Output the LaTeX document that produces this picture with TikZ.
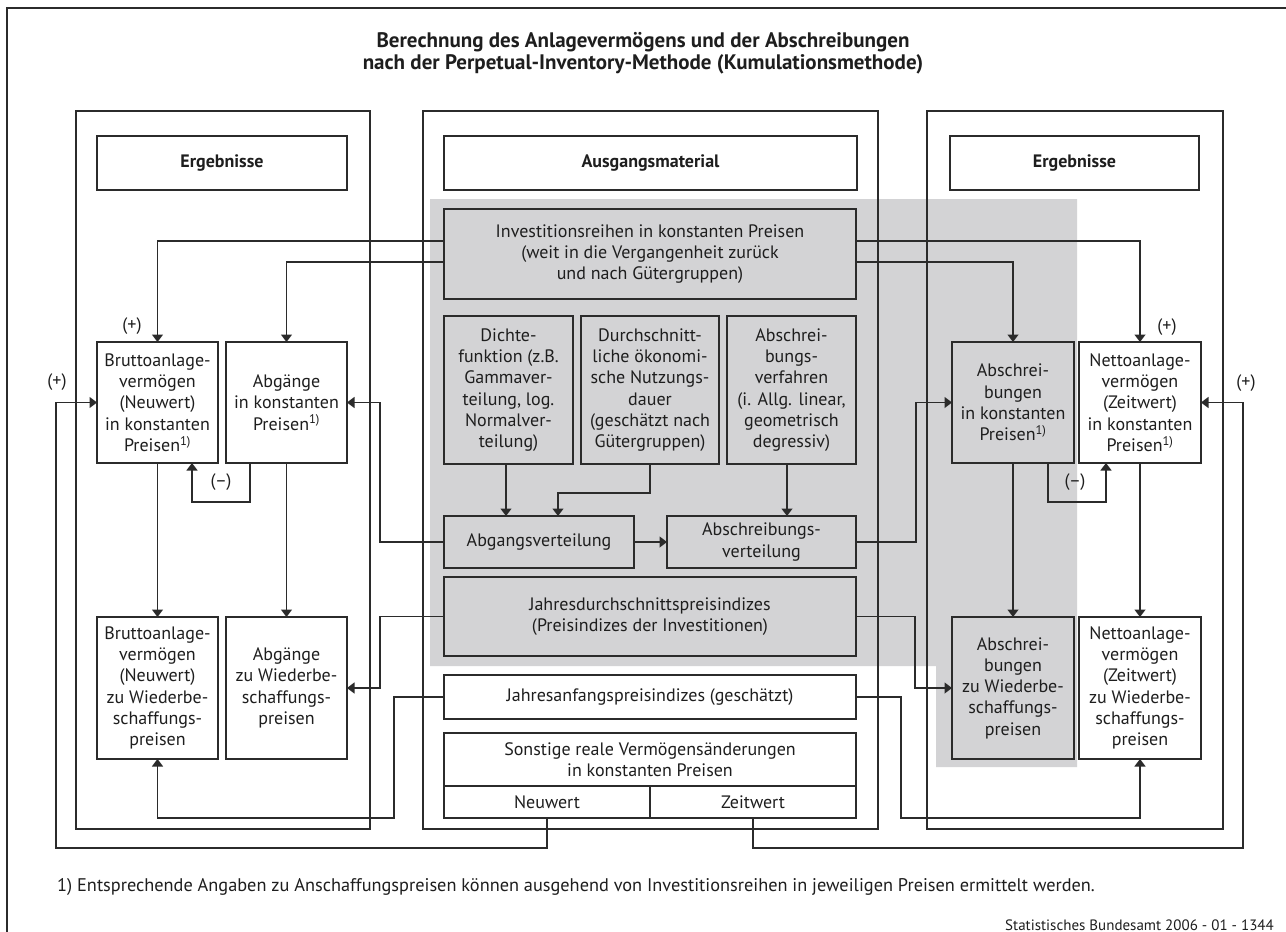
\documentclass[tikz,border=0pt]{standalone}
\usepackage{fontspec}
\setmainfont{PT Sans}
\usetikzlibrary{arrows.meta}
\definecolor{linec}{HTML}{2B2B2B}
\definecolor{textc}{HTML}{1E1E1E}
\definecolor{grayc}{HTML}{D3D3D5}
% style, x1, y1, x2, y2, name, text
\newcommand\rbox[7]{\node[#1, minimum width={#4-#2}, minimum height={#5-#3}] (#6) at ({(#2+#4)/2},{(#3+#5)/2}) {#7};}
\begin{document}
\begin{tikzpicture}[x=1pt,y=-1pt,
  txt/.style={font=\fontsize{18}{21.3}\selectfont, text=textc},
  box/.style={draw=linec, line width=1.4pt, inner sep=0pt, outer sep=0pt, align=center, txt},
  wbox/.style={box, fill=white},
  gbox/.style={box, fill=grayc},
  bbox/.style={wbox, font=\bfseries\fontsize{18}{21.3}\selectfont},
  frame/.style={draw=linec, line width=1.4pt},
  cframe/.style={draw=linec, line width=2.4pt},
  conn/.style={draw=linec, line width=1.4pt},
  arr/.style={conn, -{Triangle[length=7.5pt,width=11pt]}},
  sign/.style={txt, inner sep=0pt}
]
\useasboundingbox (0,0) rectangle (1286,932);
\fill[white] (0,0) rectangle (1286,932);
% outer frame (partly outside the page)
\draw[frame] (1300,8) -- (7,8) -- (7,945);
% title
\node[txt, font=\bfseries\fontsize{21}{21.5}\selectfont, inner sep=0pt, align=center] (title) at (643,53)
  {Berechnung des Anlagevermögens und der Abschreibungen\\nach der Perpetual-Inventory-Methode (Kumulationsmethode)};
% gray region
\fill[grayc] (430,199) -- (1077,199) -- (1077,767) -- (936,767) -- (936,666) -- (430,666) -- cycle;
% column frames
\draw[frame] (76,111) rectangle (370,829);
\draw[cframe] (423,111) rectangle (878,829);
\draw[frame] (927,111) rectangle (1223,829);
% header boxes
\rbox{bbox}{97}{136}{347}{190}{ergL}{Ergebnisse}
\rbox{bbox}{444}{136}{857}{190}{ausg}{Ausgangsmaterial}
\rbox{bbox}{950}{136}{1199}{190}{ergR}{Ergebnisse}
% centre column
\rbox{gbox}{444}{209}{856}{299}{inv}{Investitionsreihen in konstanten Preisen\\(weit in die Vergangenheit zurück\\und nach Gütergruppen)}
\rbox{gbox}{444}{316}{573}{464}{dichte}{Dichte-\\funktion (z.B.\\Gammaver-\\teilung, log.\\Normalver-\\teilung)}
\rbox{gbox}{581}{316}{719}{464}{durch}{Durchschnitt-\\liche ökonomi-\\sche Nutzungs-\\dauer\\(geschätzt nach\\Gütergruppen)}
\rbox{gbox}{727}{316}{856}{464}{abver}{Abschrei-\\bungs-\\verfahren\\(i. Allg. linear,\\geometrisch\\degressiv)}
\rbox{gbox}{444}{516}{634}{568}{abgv}{Abgangsverteilung}
\rbox{gbox}{667}{516}{856}{568}{absv}{Abschreibungs-\\verteilung}
\rbox{gbox}{444}{577}{856}{656}{jd}{Jahresdurchschnittspreisindizes\\(Preisindizes der Investitionen)}
\rbox{wbox}{444}{675}{856}{719}{ja}{Jahresanfangspreisindizes (geschätzt)}
\rbox{wbox}{444}{733}{856}{786}{sonst}{Sonstige reale Vermögensänderungen\\in konstanten Preisen}
\rbox{wbox}{444}{786}{650}{818}{neu}{Neuwert}
\rbox{wbox}{650}{786}{856}{818}{zeit}{Zeitwert}
% left column
\rbox{wbox}{97}{342}{218}{463}{bk}{Bruttoanlage-\\vermögen\\(Neuwert)\\in konstanten\\Preisen\textsuperscript{1)}}
\rbox{wbox}{226}{342}{347}{463}{agk}{Abgänge\\in konstanten\\Preisen\textsuperscript{1)}}
\rbox{wbox}{97}{617}{218}{759}{bw}{Bruttoanlage-\\vermögen\\(Neuwert)\\zu Wiederbe-\\schaffungs-\\preisen}
\rbox{wbox}{226}{617}{347}{759}{agw}{Abgänge\\zu Wiederbe-\\schaffungs-\\preisen}
% right column
\rbox{gbox}{952}{342}{1074}{463}{ak}{Abschrei-\\bungen\\in konstanten\\Preisen\textsuperscript{1)}}
\rbox{wbox}{1079}{342}{1201}{463}{nk}{Nettoanlage-\\vermögen\\(Zeitwert)\\in konstanten\\Preisen\textsuperscript{1)}}
\rbox{gbox}{952}{617}{1074}{759}{aw}{Abschrei-\\bungen\\zu Wiederbe-\\schaffungs-\\preisen}
\rbox{wbox}{1079}{617}{1201}{759}{nw}{Nettoanlage-\\vermögen\\(Zeitwert)\\zu Wiederbe-\\schaffungs-\\preisen}
% helper coordinates
\coordinate (jaL) at (394,818);
\coordinate (jaR) at (901,818);
\coordinate (botL) at (56,848);
\coordinate (botR) at (1243,848);
% connectors from investment series
\draw[arr] ([yshift=13pt]inv.west) -| (bk.north);
\draw[arr] ([yshift=-8pt]inv.west) -| (agk.north);
\draw[arr] ([yshift=13pt]inv.east) -| (nk.north);
\draw[arr] ([yshift=-8pt]inv.east) -| (ak.north);
% into distributions
\draw[arr] ([xshift=-2.5pt]dichte.south) -- ([xshift=-33pt]abgv.north);
\draw[arr] (durch.south) -- ++(0,29) -| ([xshift=19pt]abgv.north);
\draw[arr] ([xshift=-4.5pt]abver.south) -- ([xshift=25.5pt]absv.north);
\draw[arr] (abgv.east) -- (absv.west);
% distributions to results
\draw[arr] (abgv.west) -- ++(-64,0) |- (agk.east);
\draw[arr] (absv.east) -- ++(60,0) |- (ak.west);
% price indices
\draw[arr] (jd.west) -- ++(-64,0) |- (agw.east);
\draw[arr] (jd.east) -- ++(59,0) |- (aw.west);
\draw[arr] (ja.west) -| (jaL) -| (bw.south);
\draw[arr] (ja.east) -| (jaR) -| (nw.south);
% constant -> replacement prices
\draw[arr] (bk.south) -- (bw.north);
\draw[arr] (agk.south) -- (agw.north);
\draw[arr] (ak.south) -- (aw.north);
\draw[arr] (nk.south) -- (nw.north);
% (-) loops
\draw[arr] ([xshift=-36.5pt]agk.south) -- ++(0,39) -| ([xshift=34.5pt]bk.south);
\draw[arr] ([xshift=35pt]ak.south) -- ++(0,39) -| ([xshift=-34pt]nk.south);
\node[sign] (mL) at (221,482) {(–)};
\node[sign] (mR) at (1075,482) {(–)};
% other changes
\draw[arr] (neu.south) |- (botL) |- (bk.west);
\draw[arr] (zeit.south) |- (botR) |- (nk.east);
% plus signs
\node[sign] (pL1) at (132,326) {(+)};
\node[sign] (pL2) at (57,382) {(+)};
\node[sign] (pR1) at (1167,327) {(+)};
\node[sign] (pR2) at (1246,383) {(+)};
% footnote and source
\node[txt, font=\fontsize{18.3}{21.3}\selectfont, anchor=west, inner sep=0pt] (fn) at (57,887) {1) Entsprechende Angaben zu Anschaffungspreisen können ausgehend von Investitionsreihen in jeweiligen Preisen ermittelt werden.};
\node[txt, font=\fontsize{15}{17}\selectfont, anchor=east, inner sep=0pt] (src) at (1274,925) {Statistisches Bundesamt 2006 - 01 - 1344};
\end{tikzpicture}
\end{document}
